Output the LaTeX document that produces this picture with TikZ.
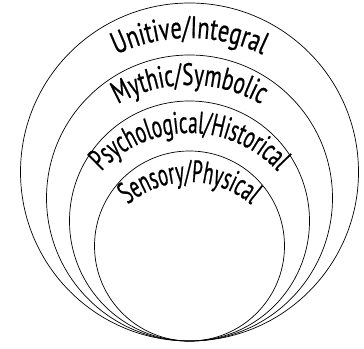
\documentclass[tikz,border=0pt]{standalone}
\usepackage{fontspec}
\newfontfamily\ringfamily[FakeBold=0.6]{PT Sans}
\newcommand\ringfont[1]{\ringfamily\addfontfeatures{FakeStretch=#1}\fontsize{31pt}{36pt}\selectfont}
\usetikzlibrary{decorations.text}

\begin{document}
\begin{tikzpicture}[
        x=1pt, y=1pt,
        ring/.style={draw=black, line width=0.7pt},
        ringlabel/.style 2 args={decorate, decoration={text along path, text align=center, text={|\ringfont{#1}|#2}}},
    ]
        \useasboundingbox (0,0) rectangle (364,348);

        % the four levels, all touching at the bottom
        \coordinate (unitive) at (189.5,176);
        \coordinate (mythic) at (189.5,150);
        \coordinate (psych) at (189.5,127);
        \coordinate (sensory) at (189.5,102);

        \draw[ring] (unitive) circle[radius=169];
        \draw[ring] (mythic) circle[radius=143];
        \draw[ring] (psych) circle[radius=120];
        \draw[ring] (sensory) circle[radius=95];

        % labels follow the same circles, moved down
        \path[ringlabel={0.72}{Unitive/Integral}] (189.5,141) ++(170:169) arc[start angle=170, end angle=10, radius=169];
        \path[ringlabel={0.68}{Mythic/Symbolic}] (189.5,120) ++(170:143) arc[start angle=170, end angle=10, radius=143];
        \path[ringlabel={0.62}{Psychological/Historical}] (189.5,95) ++(170:120) arc[start angle=170, end angle=10, radius=120];
        \path[ringlabel={0.6}{Sensory/Physical}] (189.5,71) ++(170:95) arc[start angle=170, end angle=10, radius=95];

    \end{tikzpicture}
\end{document}
